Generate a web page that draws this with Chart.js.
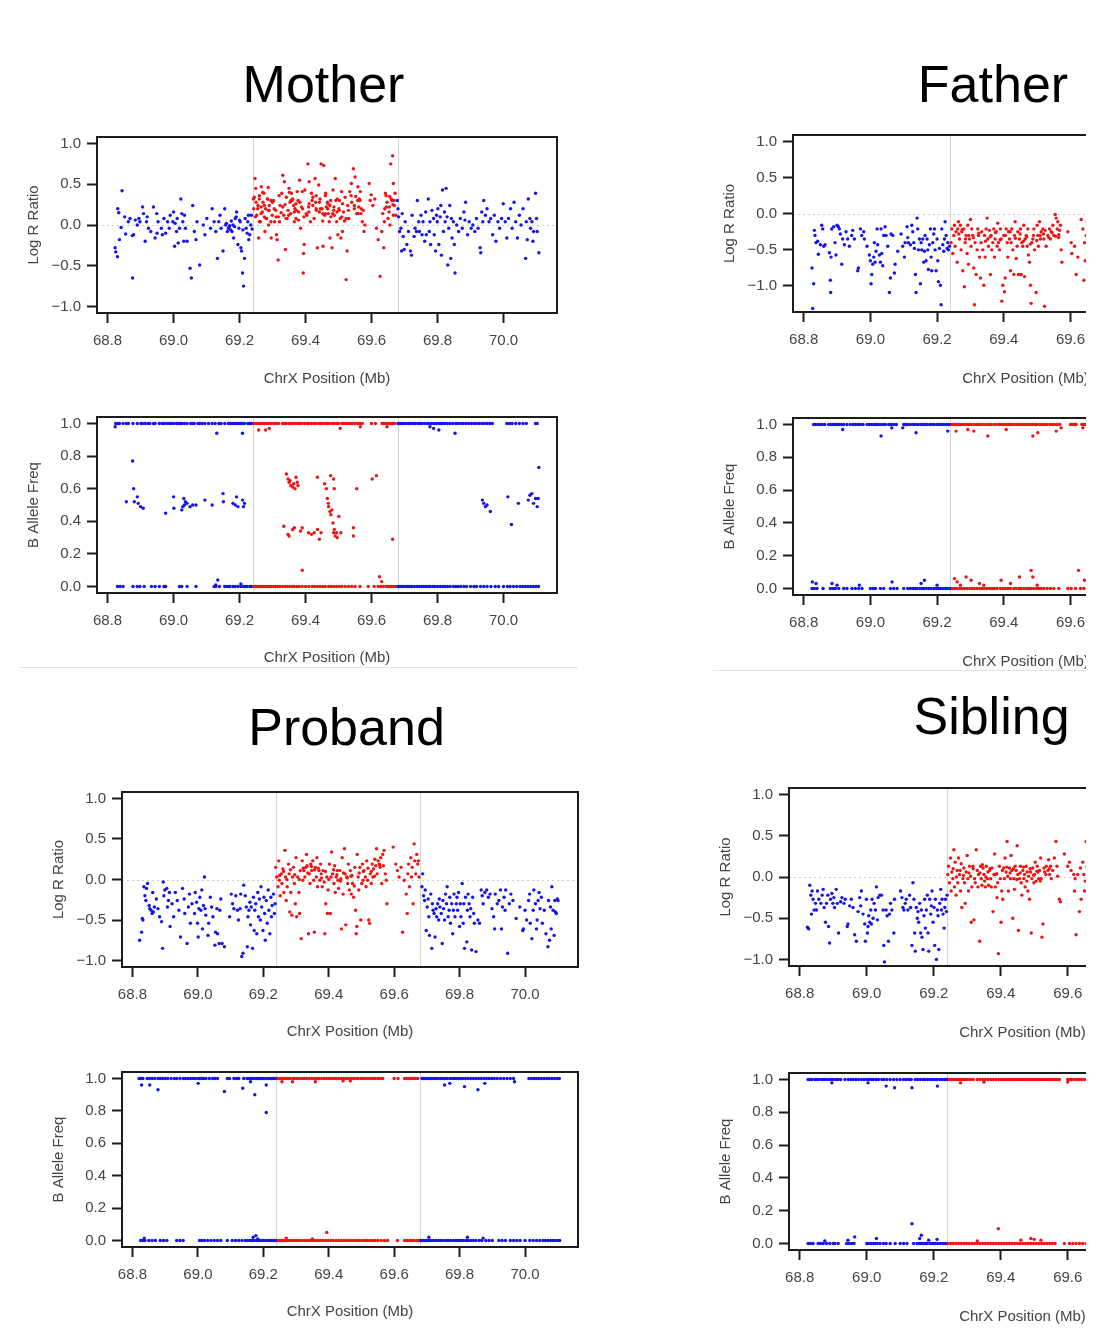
<!DOCTYPE html>
<html><head><meta charset="utf-8">
<script src="https://cdn.jsdelivr.net/npm/chart.js@4.4.1/dist/chart.umd.min.js"></script>
<style>
body{margin:0;background:#fff;}
#page{position:relative;width:1086px;height:1337px;overflow:hidden;background:#fff;font-family:"Liberation Sans",Arial,sans-serif;}
.ttl{position:absolute;font-size:52px;line-height:52px;color:#000;white-space:nowrap;transform:translateX(-50%);}
.sep{position:absolute;height:1px;background:#e2e2e2;}
</style></head><body><div id="page"></div>
<script>
// ---------- axes / categories ----------
const xTicks = [68.8, 69.0, 69.2, 69.4, 69.6, 69.8, 70.0];
const lrrTicks = [-1.0, -0.5, 0.0, 0.5, 1.0];
const bafTicks = [0.0, 0.2, 0.4, 0.6, 0.8, 1.0];
const xRange = [68.768, 70.162];
const lrrRange = [-1.08, 1.08];
const fatherLrrRange = [-1.36, 1.09];
const bafRange = [-0.04, 1.04];
const boundaries = [69.24, 69.68];
const panelTitles = ["Mother", "Father", "Proband", "Sibling"];
const xTitle = "ChrX Position (Mb)";
const lrrTitle = "Log R Ratio";
const bafTitle = "B Allele Freq";

// ---------- Mother ----------
const motherLrrBlue = [[68.823,-0.28],[68.825,-0.33],[68.83,-0.39],[68.831,0.2],[68.834,0.15],[68.836,-0.18],[68.844,0.42],[68.841,-0.03],[68.852,0.1],[68.855,-0.11],[68.863,0.04],[68.868,0.08],[68.876,-0.65],[68.875,-0.13],[68.879,-0.12],[68.884,0.06],[68.89,0],[68.895,0.08],[68.898,0.04],[68.906,0.22],[68.909,0.14],[68.914,-0.2],[68.918,0.04],[68.92,0.1],[68.924,-0.04],[68.931,-0.08],[68.939,0.22],[68.944,-0.16],[68.949,0.14],[68.95,-0.1],[68.953,0.04],[68.963,-0.04],[68.966,-0.12],[68.971,0.08],[68.976,-0.1],[68.982,0.04],[68.987,-0.04],[68.99,0.12],[68.998,0.04],[69.0,0.16],[69.003,-0.26],[69.005,0.02],[69.009,-0.08],[69.011,0.08],[69.014,-0.22],[69.018,-0.04],[69.022,0.32],[69.025,0.14],[69.028,0.04],[69.031,-0.2],[69.033,0.12],[69.036,-0.04],[69.041,-0.2],[69.05,-0.53],[69.054,-0.65],[69.058,0.24],[69.063,-0.08],[69.068,-0.18],[69.071,0.04],[69.079,-0.49],[69.09,0],[69.095,-0.12],[69.101,0.08],[69.112,-0.04],[69.117,0.2],[69.123,0.04],[69.128,-0.08],[69.133,-0.41],[69.137,0.04],[69.141,0.12],[69.144,-0.04],[69.15,-0.32],[69.155,0.2],[69.158,0],[69.16,0.02],[69.163,-0.08],[69.166,-0.04],[69.169,-0.02],[69.17,-0.01],[69.173,-0.06],[69.175,0.05],[69.177,-0.08],[69.18,0],[69.182,-0.16],[69.185,-0.02],[69.187,0.08],[69.19,0.1],[69.191,0.16],[69.195,-0.24],[69.198,-0.04],[69.2,0.06],[69.202,0.04],[69.204,-0.28],[69.206,-0.32],[69.209,-0.59],[69.21,-0.06],[69.212,-0.75],[69.215,-0.41],[69.217,0.08],[69.22,-0.04],[69.223,-0.1],[69.225,0.04],[69.227,0.12],[69.228,-0.18],[69.231,-0.12],[69.234,0],[69.236,0.12],[69.238,-0.05],
[69.678,0.3],[69.68,0.2],[69.682,0.1],[69.685,-0.08],[69.689,-0.04],[69.691,-0.32],[69.693,0.14],[69.696,-0.14],[69.699,-0.3],[69.702,0.04],[69.707,-0.24],[69.712,-0.08],[69.718,-0.32],[69.721,-0.37],[69.723,0.12],[69.729,-0.14],[69.732,-0.04],[69.736,-0.08],[69.739,0.3],[69.743,0.04],[69.745,-0.08],[69.75,0.12],[69.753,-0.12],[69.756,0.04],[69.761,-0.2],[69.764,0.16],[69.766,-0.12],[69.772,0.32],[69.775,-0.08],[69.777,0.04],[69.779,-0.24],[69.783,0.18],[69.788,0.08],[69.79,-0.12],[69.794,-0.32],[69.797,0.12],[69.799,0.04],[69.801,0.2],[69.804,-0.24],[69.808,0.1],[69.81,0.24],[69.812,-0.37],[69.815,0.43],[69.818,-0.08],[69.821,0.16],[69.823,0.04],[69.826,0.45],[69.829,0.1],[69.831,-0.49],[69.834,-0.04],[69.837,0.24],[69.84,-0.41],[69.842,0.08],[69.844,-0.16],[69.848,0.04],[69.851,-0.24],[69.853,-0.59],[69.858,0],[69.864,-0.08],[69.869,0.08],[69.875,-0.04],[69.88,0.16],[69.883,0.06],[69.885,0.28],[69.891,-0.12],[69.896,0.04],[69.902,-0.04],[69.907,0],[69.913,-0.08],[69.918,0.08],[69.923,-0.04],[69.929,-0.28],[69.931,-0.34],[69.934,0.16],[69.937,0.04],[69.94,0.3],[69.945,0.12],[69.95,0.2],[69.956,0.04],[69.961,0.08],[69.967,-0.12],[69.972,0.12],[69.977,-0.2],[69.983,0.04],[69.988,-0.04],[69.994,0.08],[69.999,0.26],[70.005,0.04],[70.01,-0.16],[70.015,0.08],[70.021,0.2],[70.026,-0.04],[70.032,0.28],[70.037,0.04],[70.042,-0.16],[70.048,0.12],[70.053,0],[70.059,0.2],[70.067,-0.41],[70.069,0.04],[70.072,-0.18],[70.075,0.32],[70.08,0.08],[70.082,-0.04],[70.086,0.04],[70.089,-0.2],[70.091,-0.08],[70.097,0.39],[70.1,0.08],[70.102,-0.08],[70.107,-0.34]];
const motherLrrRed = [[69.242,0.32],[69.243,0.2],[69.247,0.57],[69.249,0.45],[69.252,0.12],[69.256,0.24],[69.258,-0.16],[69.26,0.32],[69.263,0.04],[69.265,0.22],[69.266,0.47],[69.269,0.16],[69.271,0.28],[69.274,0.39],[69.275,0.1],[69.277,-0.08],[69.279,0.2],[69.282,0.08],[69.285,0.32],[69.287,0.18],[69.288,0],[69.29,0.24],[69.295,0.3],[69.296,-0.16],[69.299,0.12],[69.303,0.3],[69.305,0.2],[69.306,0.04],[69.31,0.18],[69.312,-0.12],[69.314,-0.18],[69.317,-0.43],[69.318,0.1],[69.321,0.04],[69.323,0.24],[69.326,0.15],[69.328,0.39],[69.331,0.61],[69.334,0.12],[69.336,0.53],[69.338,0.25],[69.339,-0.3],[69.342,0.34],[69.344,0.08],[69.347,0.18],[69.349,0.12],[69.35,0.45],[69.353,0.28],[69.355,0.14],[69.357,0.39],[69.359,0.3],[69.361,0.32],[69.364,0.24],[69.366,0.04],[69.368,0.2],[69.371,0.08],[69.372,0.18],[69.375,0.41],[69.377,0.3],[69.379,0.16],[69.382,0.55],[69.383,0.28],[69.385,-0.04],[69.388,0.22],[69.39,0.41],[69.393,-0.59],[69.394,-0.35],[69.395,0.1],[69.396,-0.24],[69.398,0.43],[69.404,0.12],[69.407,0.75],[69.409,0.22],[69.41,0.16],[69.411,0.53],[69.415,0.04],[69.418,0.39],[69.42,0.3],[69.422,0.24],[69.426,0.08],[69.429,0.57],[69.431,0.28],[69.432,0.36],[69.433,0.18],[69.436,-0.28],[69.44,0.49],[69.442,0.16],[69.444,0.32],[69.445,0.2],[69.447,0.75],[69.45,0.2],[69.452,0.05],[69.453,-0.26],[69.455,0.73],[69.458,0.12],[69.46,0.14],[69.461,0.39],[69.463,0.22],[69.466,0.28],[69.468,0.26],[69.469,0.14],[69.472,0.04],[69.474,-0.16],[69.476,0.3],[69.477,0.1],[69.48,-0.28],[69.483,0.43],[69.485,0.18],[69.486,0.22],[69.487,0.12],[69.49,0.57],[69.494,0.04],[69.495,0.16],[69.496,0.32],[69.498,-0.12],[69.501,0.2],[69.503,0.3],[69.505,0.08],[69.507,-0.16],[69.509,0.41],[69.51,0.1],[69.512,-0.08],[69.515,0.16],[69.518,0.05],[69.52,0.34],[69.523,-0.67],[69.526,-0.32],[69.528,0.24],[69.53,0.18],[69.531,0.08],[69.534,0.41],[69.539,0.51],[69.54,0.28],[69.545,0.69],[69.548,0.24],[69.55,0.59],[69.552,0.35],[69.555,0.14],[69.559,0.47],[69.56,0.14],[69.561,0.22],[69.563,0.32],[69.565,0.3],[69.566,0.41],[69.569,0.2],[69.572,0.04],[69.575,0.18],[69.577,-0.08],[69.58,0],[69.593,0.51],[69.596,0.3],[69.599,0.37],[69.604,0.24],[69.61,0.32],[69.615,-0.04],[69.62,-0.18],[69.626,-0.63],[69.631,-0.08],[69.634,0.14],[69.637,-0.28],[69.639,0.04],[69.64,0.2],[69.642,0.39],[69.645,0.22],[69.647,0.28],[69.65,0.08],[69.653,0.16],[69.655,0.35],[69.656,0],[69.658,0.75],[69.66,0.32],[69.664,0.85],[69.665,0.25],[69.666,0.51],[69.668,0.3],[69.669,0.24],[69.671,0.39],[69.674,0.12],
[69.245,0.34],[69.25,0.28],[69.255,0.2],[69.26,0.36],[69.265,0.14],[69.27,0.4],[69.275,0.24],[69.28,0.08],[69.285,0.32],[69.29,0.18],[69.295,0.04],[69.26,0.04],[69.248,0.1],[69.287,0.46],[69.3,0.28],[69.311,0.1],[69.32,0.36],[69.331,0.22],[69.341,0.08],[69.351,0.4],[69.356,0.3],[69.366,0.16],[69.371,0.26],[69.379,0.06],[69.391,0.2],[69.402,0.14],[69.411,0.26],[69.422,0.34],[69.432,0.2],[69.442,0.28],[69.452,0.14],[69.46,0.36],[69.467,0.2],[69.474,0.24],[69.482,0.14],[69.492,0.3],[69.502,0.18],[69.512,0.26],[69.523,0.08],[69.538,0.36],[69.548,0.2],[69.558,0.3],[69.568,0.14],[69.644,0.36],[69.654,0.22],[69.662,0.3],[69.666,0.12]];
const motherBafBlueAt1 = [68.825,68.83,68.836,68.847,68.857,68.863,68.877,68.89,68.901,68.906,68.914,68.922,68.928,68.939,68.944,68.957,68.966,68.971,68.979,68.987,68.993,69.0,69.009,69.014,69.02,69.025,69.033,69.041,69.052,69.058,69.063,69.074,69.079,69.087,69.095,69.106,69.117,69.126,69.137,69.144,69.155,69.166,69.171,69.177,69.182,69.187,69.193,69.198,69.204,69.209,69.215,69.225,69.231,69.236,69.68,69.686,69.692,69.698,69.705,69.712,69.718,69.725,69.732,69.74,69.746,69.752,69.76,69.768,69.775,69.782,69.79,69.797,69.804,69.81,69.816,69.822,69.83,69.838,69.846,69.855,69.862,69.87,69.878,69.886,69.894,69.902,69.91,69.918,69.926,69.934,69.942,69.95,69.958,69.966,70.01,70.018,70.026,70.037,70.048,70.059,70.069,70.097,70.102];
const motherBafBlueAt0 = [68.83,68.838,68.847,68.877,68.89,68.898,68.911,68.933,68.944,68.957,68.971,68.976,69.018,69.025,69.041,69.068,69.123,69.128,69.139,69.155,69.161,69.166,69.171,69.18,69.187,69.195,69.204,69.212,69.217,69.223,69.231,69.236,69.68,69.686,69.692,69.698,69.705,69.71,69.716,69.722,69.73,69.738,69.745,69.752,69.758,69.765,69.772,69.778,69.786,69.792,69.8,69.808,69.815,69.822,69.83,69.838,69.848,69.855,69.862,69.87,69.88,69.888,69.9,69.91,69.918,69.93,69.94,69.95,69.962,69.975,69.985,70.0,70.012,70.02,70.03,70.04,70.05,70.058,70.066,70.074,70.082,70.09,70.098,70.106];
const motherBafBlueOther = [[68.823,0.98],[69.131,0.94],[69.209,0.94],[69.788,0.97],[69.804,0.96],[69.853,0.94],[69.777,0.98],[69.134,0.04],[69.128,0.01],[69.204,0.015],[68.876,0.77],[68.879,0.6],[68.857,0.52],[68.881,0.52],[68.89,0.55],[68.893,0.51],[68.9,0.49],[68.908,0.48],[68.976,0.45],[69.0,0.55],[69.001,0.48],[69.025,0.47],[69.028,0.49],[69.031,0.54],[69.033,0.5],[69.036,0.52],[69.041,0.51],[69.05,0.49],[69.058,0.5],[69.068,0.5],[69.095,0.53],[69.117,0.5],[69.15,0.57],[69.151,0.52],[69.18,0.51],[69.187,0.5],[69.191,0.55],[69.195,0.49],[69.209,0.53],[69.212,0.49],[69.215,0.51],[69.936,0.53],[69.94,0.51],[69.945,0.49],[69.95,0.5],[69.96,0.46],[70.013,0.55],[70.024,0.38],[70.045,0.51],[70.075,0.53],[70.08,0.56],[70.086,0.57],[70.091,0.51],[70.097,0.54],[70.102,0.49],[70.107,0.73],[70.105,0.54]];
const motherBafRedAt1 = [69.243,69.25,69.256,69.262,69.268,69.275,69.282,69.29,69.297,69.305,69.312,69.318,69.33,69.336,69.342,69.35,69.356,69.362,69.37,69.377,69.383,69.39,69.398,69.405,69.41,69.418,69.425,69.432,69.44,69.446,69.452,69.46,69.466,69.472,69.48,69.487,69.494,69.5,69.51,69.516,69.522,69.53,69.536,69.542,69.55,69.558,69.565,69.572,69.6,69.612,69.632,69.638,69.645,69.652,69.658,69.664,69.67];
const motherBafRedAt0 = [69.244,69.249,69.255,69.26,69.266,69.271,69.278,69.284,69.29,69.296,69.303,69.309,69.316,69.322,69.33,69.338,69.345,69.352,69.36,69.366,69.374,69.381,69.39,69.4,69.41,69.42,69.427,69.436,69.444,69.452,69.46,69.47,69.478,69.486,69.494,69.502,69.51,69.52,69.53,69.54,69.55,69.565,69.59,69.608,69.62,69.628,69.636,69.645,69.65,69.656,69.662,69.668,69.673];
const motherBafRedOther = [[69.258,0.96],[69.279,0.96],[69.29,0.97],[69.505,0.97],[69.566,0.98],[69.647,0.98],[69.342,0.69],[69.347,0.66],[69.35,0.64],[69.353,0.65],[69.355,0.62],[69.361,0.61],[69.364,0.63],[69.368,0.6],[69.371,0.67],[69.375,0.64],[69.377,0.62],[69.334,0.37],[69.347,0.32],[69.35,0.31],[69.361,0.35],[69.366,0.36],[69.385,0.34],[69.39,0.36],[69.409,0.33],[69.418,0.32],[69.426,0.33],[69.436,0.35],[69.442,0.29],[69.447,0.33],[69.39,0.1],[69.436,0.67],[69.458,0.63],[69.463,0.6],[69.466,0.54],[69.469,0.51],[69.47,0.49],[69.474,0.46],[69.477,0.44],[69.48,0.47],[69.476,0.68],[69.485,0.66],[69.483,0.39],[69.485,0.33],[69.487,0.35],[69.49,0.31],[69.494,0.33],[69.496,0.3],[69.487,0.6],[69.501,0.43],[69.507,0.33],[69.555,0.6],[69.545,0.36],[69.545,0.31],[69.602,0.66],[69.615,0.68],[69.664,0.29],[69.624,0.06],[69.631,0.03]];

// ---------- Father ----------
const fatherLrrBlue = [[68.825,-0.75],[68.83,-0.97],[68.827,-1.31],[68.832,-0.23],[68.837,-0.4],[68.834,-0.3],[68.842,-0.38],[68.844,-0.56],[68.85,-0.43],[68.854,-0.16],[68.857,-0.21],[68.86,-0.45],[68.864,-0.43],[68.877,-0.54],[68.88,-0.92],[68.881,-1.09],[68.882,-0.6],[68.884,-0.21],[68.89,-0.18],[68.894,-0.4],[68.897,-0.57],[68.9,-0.16],[68.904,-0.18],[68.907,-0.21],[68.91,-0.28],[68.914,-0.7],[68.917,-0.35],[68.922,-0.43],[68.927,-0.25],[68.932,-0.35],[68.937,-0.45],[68.944,-0.3],[68.947,-0.23],[68.952,-0.35],[68.962,-0.79],[68.964,-0.75],[68.97,-0.21],[68.974,-0.3],[68.98,-0.25],[68.982,-0.35],[68.99,-0.45],[68.997,-0.57],[69.0,-0.65],[69.002,-0.97],[69.004,-0.84],[69.007,-0.7],[69.01,-0.6],[69.012,-0.4],[69.014,-0.67],[69.017,-0.52],[69.02,-0.21],[69.022,-0.43],[69.027,-0.57],[69.03,-0.67],[69.032,-0.21],[69.034,-0.55],[69.037,-0.72],[69.04,-0.3],[69.044,-0.18],[69.047,-0.3],[69.052,-0.45],[69.057,-1.09],[69.06,-0.89],[69.062,-0.28],[69.067,-0.3],[69.072,-0.82],[69.074,-0.7],[69.082,-0.52],[69.092,-0.28],[69.097,-0.45],[69.102,-0.6],[69.104,-0.4],[69.11,-0.18],[69.112,-0.33],[69.114,-0.4],[69.12,-0.43],[69.124,-0.16],[69.127,-0.25],[69.13,-0.4],[69.132,-0.48],[69.135,-0.84],[69.137,-1.09],[69.14,-0.06],[69.142,-0.21],[69.144,-0.5],[69.147,-0.35],[69.15,-0.97],[69.152,-0.4],[69.154,-0.5],[69.157,-0.35],[69.16,-0.67],[69.162,-0.52],[69.164,-0.3],[69.167,-0.65],[69.17,-0.35],[69.172,-0.5],[69.174,-0.77],[69.177,-0.43],[69.18,-0.21],[69.182,-0.6],[69.184,-0.79],[69.187,-0.4],[69.19,-0.28],[69.192,-0.21],[69.194,-0.5],[69.197,-0.79],[69.2,-0.35],[69.202,-0.65],[69.204,-0.94],[69.207,-0.48],[69.21,-0.99],[69.212,-1.26],[69.214,-0.21],[69.217,-0.43],[69.22,-0.52],[69.222,-0.35],[69.224,-0.11],[69.227,-0.3],[69.23,-0.48],[69.232,-0.4],[69.234,-0.5],[69.237,-0.45]];
const fatherLrrRed = [[69.242,-0.4],[69.244,-0.21],[69.247,-0.55],[69.25,-0.3],[69.252,-0.16],[69.254,-0.45],[69.257,-0.25],[69.26,-0.67],[69.262,-0.21],[69.264,-0.11],[69.267,-0.35],[69.27,-0.16],[69.272,-0.5],[69.274,-0.25],[69.277,-0.79],[69.28,-0.21],[69.282,-1.01],[69.284,-0.4],[69.287,-0.3],[69.29,-0.55],[69.292,-0.16],[69.294,-0.7],[69.297,-0.35],[69.3,-0.08],[69.302,-0.45],[69.304,-0.21],[69.307,-0.3],[69.31,-0.75],[69.312,-1.26],[69.314,-0.4],[69.317,-0.84],[69.32,-0.5],[69.322,-0.21],[69.324,-0.3],[69.327,-0.6],[69.33,-0.89],[69.332,-0.4],[69.334,-0.25],[69.337,-0.5],[69.34,-0.99],[69.342,-0.3],[69.344,-0.6],[69.347,-0.21],[69.35,-0.06],[69.352,-0.35],[69.354,-0.45],[69.357,-0.23],[69.36,-0.84],[69.362,-0.3],[69.364,-0.5],[69.367,-0.4],[69.37,-0.21],[69.372,-0.6],[69.374,-0.35],[69.377,-0.25],[69.38,-0.45],[69.382,-0.13],[69.384,-0.4],[69.387,-0.5],[69.39,-0.21],[69.392,-0.35],[69.394,-1.21],[69.397,-0.99],[69.4,-0.3],[69.402,-1.08],[69.404,-0.89],[69.407,-0.21],[69.41,-0.4],[69.412,-0.6],[69.414,-0.25],[69.417,-0.35],[69.42,-0.79],[69.422,-0.4],[69.424,-0.21],[69.427,-0.5],[69.43,-0.84],[69.432,-0.3],[69.434,-0.11],[69.437,-0.62],[69.44,-0.45],[69.442,-0.25],[69.444,-0.84],[69.447,-0.35],[69.45,-0.21],[69.452,-0.84],[69.454,-0.4],[69.457,-0.45],[69.46,-0.16],[69.462,-0.87],[69.464,-0.35],[69.467,-0.3],[69.47,-0.45],[69.472,-0.21],[69.474,-0.57],[69.477,-0.67],[69.48,-0.99],[69.482,-1.24],[69.484,-0.4],[69.487,-0.35],[69.49,-0.21],[69.492,-0.5],[69.497,-1.09],[69.5,-0.16],[69.502,-0.3],[69.504,-0.45],[69.507,-0.11],[69.51,-0.35],[69.512,-0.25],[69.517,-0.21],[69.52,-0.35],[69.522,-1.28],[69.524,-0.23],[69.527,-0.45],[69.532,-0.3],[69.537,-0.21],[69.54,-0.35],[69.542,-0.25],[69.547,-0.16],[69.55,-0.3],[69.554,-0.01],[69.557,-0.06],[69.56,-0.21],[69.562,-0.11],[69.564,-0.33],[69.567,-0.23],[69.57,-0.16],[69.572,-0.5],[69.574,-0.67],[69.592,-0.25],[69.602,-0.4],[69.604,-0.55],[69.612,-0.45],[69.617,-0.84],[69.622,-0.6],[69.632,-0.08],[69.637,-0.21],[69.64,-0.92],[69.642,-0.4],[69.644,-0.65],[69.647,-0.3],[69.65,-0.11],[69.652,-0.5],[69.265,-0.28],[69.275,-0.22],[69.285,-0.35],[69.295,-0.3],[69.309,-0.33],[69.325,-0.27],[69.345,-0.38],[69.359,-0.32],[69.375,-0.26],[69.389,-0.36],[69.405,-0.3],[69.419,-0.25],[69.435,-0.34],[69.449,-0.28],[69.459,-0.38],[69.469,-0.32],[69.479,-0.42],[69.489,-0.3],[69.499,-0.37],[69.509,-0.3],[69.519,-0.28],[69.535,-0.33],[69.545,-0.26],[69.555,-0.31],[69.565,-0.29]];
const fatherBafBlueAt1 = [68.83,68.835,68.842,68.85,68.856,68.863,68.875,68.882,68.888,68.895,68.9,68.906,68.913,68.92,68.93,68.94,68.948,68.955,68.962,68.97,68.978,68.99,68.997,69.003,69.01,69.016,69.022,69.03,69.038,69.045,69.055,69.062,69.07,69.078,69.1,69.105,69.112,69.12,69.128,69.135,69.142,69.15,69.157,69.163,69.17,69.178,69.185,69.192,69.2,69.207,69.213,69.22,69.228,69.235];
const fatherBafBlueAt0 = [68.825,68.832,68.84,68.858,68.88,68.888,68.895,68.905,68.92,68.93,68.945,68.955,68.965,68.975,69.0,69.008,69.015,69.03,69.04,69.06,69.07,69.08,69.1,69.112,69.12,69.128,69.135,69.14,69.148,69.155,69.16,69.168,69.175,69.182,69.19,69.197,69.204,69.21,69.217,69.224,69.23,69.237];
const fatherBafBlueOther = [[68.917,0.97],[69.032,0.93],[69.064,0.98],[69.097,0.98],[69.137,0.95],[69.232,0.96],[68.826,0.04],[68.837,0.03],[68.885,0.03],[68.967,0.02],[69.065,0.04],[69.162,0.05],[69.152,0.03],[68.9,0.02],[69.2,0.02]];
const fatherBafRedAt1 = [69.242,69.248,69.254,69.26,69.266,69.272,69.278,69.285,69.29,69.296,69.302,69.31,69.318,69.325,69.332,69.34,69.348,69.356,69.362,69.37,69.378,69.386,69.392,69.398,69.405,69.412,69.418,69.425,69.432,69.44,69.447,69.454,69.46,69.467,69.474,69.48,69.487,69.494,69.5,69.508,69.515,69.522,69.53,69.538,69.545,69.552,69.56,69.568,69.6,69.606,69.612,69.617,69.634,69.64,69.646,69.652,69.658];
const fatherBafRedAt0 = [69.242,69.247,69.253,69.26,69.268,69.275,69.282,69.29,69.298,69.305,69.312,69.32,69.328,69.335,69.342,69.35,69.358,69.365,69.372,69.38,69.39,69.398,69.405,69.412,69.42,69.43,69.437,69.445,69.452,69.46,69.468,69.475,69.482,69.49,69.498,69.505,69.512,69.52,69.53,69.54,69.55,69.565,69.592,69.602,69.615,69.63,69.64,69.65,69.658];
const fatherBafRedOther = [[69.257,0.96],[69.292,0.97],[69.31,0.96],[69.352,0.93],[69.407,0.97],[69.487,0.93],[69.502,0.95],[69.557,0.96],[69.572,0.98],[69.637,0.98],[69.252,0.06],[69.26,0.04],[69.287,0.07],[69.302,0.05],[69.327,0.03],[69.392,0.05],[69.447,0.07],[69.482,0.11],[69.487,0.07],[69.624,0.11],[69.642,0.05],[69.27,0.02],[69.34,0.02],[69.42,0.03],[69.5,0.02]];

// ---------- Proband ----------
const probandLrrBlue = [[68.822,-0.75],[68.828,-0.65],[68.83,-0.48],[68.832,-0.5],[68.835,-0.09],[68.838,-0.2],[68.841,-0.26],[68.843,-0.11],[68.846,-0.05],[68.851,-0.32],[68.853,-0.36],[68.857,-0.38],[68.86,-0.42],[68.862,-0.16],[68.864,-0.4],[68.867,-0.34],[68.873,-0.24],[68.878,-0.36],[68.883,-0.46],[68.889,-0.52],[68.892,-0.85],[68.894,-0.03],[68.896,-0.2],[68.899,-0.13],[68.905,-0.11],[68.907,-0.34],[68.91,-0.26],[68.913,-0.16],[68.915,-0.58],[68.921,-0.3],[68.926,-0.46],[68.931,-0.16],[68.937,-0.26],[68.942,-0.38],[68.947,-0.71],[68.953,-0.11],[68.958,-0.24],[68.96,-0.42],[68.967,-0.79],[68.971,-0.34],[68.974,-0.18],[68.977,-0.54],[68.982,-0.3],[68.99,-0.42],[68.992,-0.16],[68.996,-0.28],[68.999,-0.54],[69.001,-0.71],[69.003,-0.36],[69.006,-0.22],[69.009,-0.38],[69.012,-0.13],[69.014,-0.61],[69.017,-0.32],[69.02,0.03],[69.022,-0.36],[69.024,-0.44],[69.031,-0.69],[69.033,-0.54],[69.038,-0.22],[69.042,-0.34],[69.046,-0.46],[69.052,-0.81],[69.054,-0.65],[69.058,-0.36],[69.06,-0.67],[69.065,-0.79],[69.067,-0.38],[69.07,-0.24],[69.074,-0.79],[69.081,-0.83],[69.097,-0.46],[69.102,-0.18],[69.106,-0.3],[69.11,-0.36],[69.116,-0.2],[69.121,-0.38],[69.124,-0.5],[69.129,-0.36],[69.131,-0.18],[69.134,-0.95],[69.138,-0.91],[69.14,-0.07],[69.145,-0.2],[69.148,-0.34],[69.151,-0.83],[69.153,-0.46],[69.156,-0.38],[69.159,-0.28],[69.161,-0.56],[69.163,-0.34],[69.167,-0.85],[69.17,-0.22],[69.172,-0.63],[69.174,-0.38],[69.177,-0.3],[69.18,-0.67],[69.183,-0.16],[69.185,-0.46],[69.188,-0.24],[69.191,-0.5],[69.193,-0.09],[69.195,-0.34],[69.199,-0.63],[69.202,-0.22],[69.204,-0.42],[69.206,-0.75],[69.209,-0.26],[69.212,-0.54],[69.215,-0.13],[69.217,-0.38],[69.22,-0.67],[69.223,-0.22],[69.225,-0.46],[69.227,-0.32],[69.231,-0.18],[69.234,-0.42],[69.236,-0.3],
[69.685,-0.09],[69.687,0.07],[69.69,-0.2],[69.693,-0.26],[69.695,-0.13],[69.698,-0.63],[69.701,-0.34],[69.704,-0.24],[69.706,-0.46],[69.708,-0.69],[69.712,-0.18],[69.715,-0.85],[69.717,-0.3],[69.719,-0.38],[69.722,-0.42],[69.725,-0.71],[69.728,-0.36],[69.73,-0.46],[69.733,-0.3],[69.736,-0.5],[69.738,-0.24],[69.74,-0.34],[69.744,-0.42],[69.747,-0.79],[69.749,-0.26],[69.751,-0.36],[69.754,-0.5],[69.757,-0.18],[69.76,-0.3],[69.762,-0.09],[69.765,-0.46],[69.768,-0.38],[69.77,-0.22],[69.772,-0.54],[69.776,-0.3],[69.779,-0.67],[69.781,-0.38],[69.783,-0.18],[69.786,-0.46],[69.79,-0.3],[69.792,-0.22],[69.794,-0.38],[69.797,-0.16],[69.8,-0.58],[69.802,-0.3],[69.804,-0.46],[69.808,-0.05],[69.811,-0.54],[69.813,-0.3],[69.815,-0.85],[69.818,-0.22],[69.822,-0.77],[69.824,-0.38],[69.826,-0.18],[69.829,-0.3],[69.832,-0.46],[69.834,-0.36],[69.837,-0.87],[69.84,-0.22],[69.843,-0.42],[69.845,-0.54],[69.85,-0.89],[69.856,-0.5],[69.861,-0.54],[69.866,-0.13],[69.869,-0.2],[69.872,-0.3],[69.877,-0.16],[69.883,-0.13],[69.888,-0.22],[69.893,-0.18],[69.899,-0.36],[69.904,-0.46],[69.907,-0.61],[69.909,-0.18],[69.915,-0.3],[69.92,-0.26],[69.925,-0.13],[69.928,-0.61],[69.931,-0.34],[69.936,-0.22],[69.939,-0.38],[69.941,-0.13],[69.947,-0.91],[69.952,-0.3],[69.957,-0.18],[69.963,-0.26],[69.973,-0.48],[69.984,-0.34],[69.993,-0.63],[69.995,-0.61],[70.0,-0.38],[70.005,-0.5],[70.011,-0.26],[70.014,-0.18],[70.016,-0.54],[70.021,-0.73],[70.025,-0.38],[70.027,-0.13],[70.032,-0.3],[70.035,-0.61],[70.037,-0.5],[70.04,-0.26],[70.043,-0.16],[70.046,-0.36],[70.05,-0.22],[70.053,-0.54],[70.059,-0.38],[70.064,-0.67],[70.07,-0.83],[70.072,-0.26],[70.075,-0.75],[70.078,-0.34],[70.08,-0.61],[70.082,-0.09],[70.086,-0.38],[70.089,-0.69],[70.091,-0.26],[70.093,-0.4],[70.096,-0.42],[70.099,-0.24],[70.101,-0.26]];
const probandLrrRed = [[69.238,0.15],[69.241,0.03],[69.245,-0.09],[69.247,0.23],[69.249,-0.01],[69.252,-0.2],[69.255,0.07],[69.257,-0.05],[69.26,0.13],[69.263,-0.16],[69.266,0.36],[69.268,0.03],[69.27,-0.26],[69.273,-0.09],[69.277,0.19],[69.279,0.07],[69.281,-0.4],[69.284,-0.16],[69.287,-0.44],[69.289,0.03],[69.292,0.15],[69.295,-0.05],[69.298,-0.3],[69.3,0.27],[69.302,-0.46],[69.305,0.03],[69.309,-0.16],[69.311,-0.42],[69.313,0.11],[69.316,-0.73],[69.319,0.23],[69.321,-0.01],[69.324,0.11],[69.327,0.03],[69.33,0.15],[69.332,0.31],[69.334,0.17],[69.338,-0.67],[69.341,0.07],[69.343,-0.05],[69.345,0.19],[69.348,0.11],[69.351,0.23],[69.354,-0.01],[69.356,-0.65],[69.359,0.15],[69.362,0.03],[69.364,0.27],[69.366,-0.09],[69.37,0.11],[69.373,-0.01],[69.375,0.19],[69.377,0.07],[69.38,-0.09],[69.383,0.11],[69.386,-0.03],[69.388,-0.67],[69.391,-0.3],[69.394,0.03],[69.396,-0.42],[69.398,-0.13],[69.402,0.19],[69.405,-0.42],[69.407,0.03],[69.409,0.34],[69.412,0.07],[69.416,-0.05],[69.418,0.17],[69.42,-0.16],[69.423,0.03],[69.426,0.11],[69.428,-0.01],[69.43,-0.11],[69.434,0.11],[69.437,0.01],[69.439,-0.61],[69.441,0.27],[69.444,-0.18],[69.448,0.38],[69.45,0.07],[69.452,-0.56],[69.455,0.03],[69.458,-0.05],[69.46,0.19],[69.463,-0.13],[69.466,0.11],[69.469,-0.18],[69.471,0.05],[69.473,-0.05],[69.476,-0.22],[69.48,0.15],[69.482,-0.38],[69.484,-0.67],[69.486,-0.58],[69.487,0.31],[69.49,0.03],[69.492,-0.13],[69.495,0.15],[69.498,-0.5],[69.501,-0.05],[69.503,0.19],[69.505,-0.01],[69.508,0.11],[69.512,0.03],[69.514,-0.09],[69.516,0.23],[69.519,-0.01],[69.522,-0.5],[69.525,-0.54],[69.527,0.07],[69.53,-0.05],[69.533,0.19],[69.535,0.03],[69.537,0.13],[69.541,0.25],[69.544,0.17],[69.546,0.38],[69.548,0.07],[69.551,0.23],[69.554,0.19],[69.557,0.15],[69.559,0.27],[69.562,-0.05],[69.565,0.31],[69.567,0.17],[69.569,0.36],[69.573,0.07],[69.576,-0.01],[69.578,-0.3],[69.597,0.4],[69.605,0.19],[69.61,0.11],[69.615,0.03],[69.621,0.15],[69.626,-0.65],[69.631,-0.01],[69.637,-0.18],[69.64,-0.42],[69.642,0.07],[69.644,0.19],[69.647,-0.09],[69.651,0.27],[69.653,0.03],[69.655,0.15],[69.658,-0.3],[69.661,0.44],[69.663,0.23],[69.666,0.07],[69.669,0.31],[69.672,0.19],[69.674,0.23],[69.676,0.03],[69.25,0.05],[69.262,0.1],[69.272,0.0],[69.283,0.12],[69.296,0.06],[69.31,0.0],[69.322,0.14],[69.336,0.08],[69.347,0.16],[69.357,0.12],[69.368,0.14],[69.378,0.02],[69.39,0.1],[69.4,0.0],[69.415,0.12],[69.425,0.06],[69.436,-0.02],[69.445,0.08],[69.457,0.02],[69.468,0.04],[69.478,-0.08],[69.493,0.08],[69.506,0.1],[69.52,0.14],[69.53,0.1],[69.54,0.04],[69.556,0.18]];
const probandBafBlueAt1 = [68.82,68.826,68.832,68.845,68.852,68.86,68.868,68.878,68.885,68.892,68.9,68.908,68.918,68.928,68.935,68.945,68.955,68.962,68.97,68.978,68.985,68.992,69.0,69.006,69.012,69.018,69.025,69.035,69.045,69.052,69.06,69.09,69.097,69.11,69.118,69.125,69.14,69.15,69.157,69.163,69.17,69.178,69.185,69.19,69.196,69.202,69.21,69.217,69.224,69.23,69.236,69.685,69.69,69.696,69.702,69.708,69.715,69.722,69.728,69.735,69.742,69.748,69.755,69.762,69.77,69.777,69.784,69.79,69.797,69.804,69.81,69.818,69.826,69.834,69.842,69.85,69.858,69.866,69.874,69.882,69.89,69.898,69.906,69.915,69.925,69.935,69.945,69.955,69.965,70.012,70.02,70.028,70.035,70.042,70.05,70.058,70.066,70.074,70.082,70.09,70.098,70.105];
const probandBafBlueAt0 = [68.825,68.832,68.838,68.85,68.86,68.87,68.885,68.895,68.905,68.935,68.945,68.955,69.005,69.012,69.02,69.03,69.04,69.05,69.06,69.07,69.09,69.105,69.115,69.125,69.135,69.145,69.152,69.16,69.165,69.17,69.178,69.185,69.19,69.196,69.202,69.21,69.217,69.224,69.23,69.236,69.682,69.688,69.695,69.7,69.706,69.712,69.72,69.728,69.735,69.742,69.75,69.758,69.765,69.772,69.78,69.788,69.795,69.8,69.806,69.812,69.82,69.826,69.834,69.842,69.85,69.86,69.868,69.88,69.89,69.9,69.92,69.93,69.94,69.955,69.965,69.975,69.985,70.0,70.015,70.025,70.035,70.045,70.055,70.062,70.07,70.078,70.085,70.092,70.1,70.106];
const probandBafBlueOther = [[68.828,0.96],[68.853,0.96],[68.878,0.93],[69.001,0.97],[69.081,0.92],[69.137,0.94],[69.174,0.9],[69.209,0.96],[69.209,0.79],[69.161,0.98],[69.754,0.96],[69.77,0.97],[69.815,0.95],[69.856,0.93],[69.877,0.97],[69.968,0.98],[69.169,0.02],[69.177,0.03],[69.183,0.01],[68.836,0.015],[69.706,0.02],[69.824,0.02],[69.872,0.015]];
const probandBafRedAt1 = [69.243,69.25,69.256,69.262,69.268,69.275,69.282,69.29,69.296,69.303,69.31,69.318,69.325,69.332,69.34,69.348,69.356,69.363,69.37,69.378,69.386,69.393,69.4,69.408,69.415,69.422,69.43,69.438,69.445,69.452,69.46,69.468,69.475,69.482,69.49,69.498,69.505,69.512,69.52,69.528,69.535,69.542,69.55,69.558,69.565,69.6,69.612,69.632,69.638,69.645,69.652,69.658,69.665,69.672];
const probandBafRedAt0 = [69.242,69.248,69.254,69.26,69.267,69.274,69.28,69.288,69.295,69.302,69.31,69.318,69.326,69.334,69.342,69.35,69.358,69.366,69.374,69.382,69.39,69.398,69.406,69.414,69.422,69.43,69.438,69.446,69.454,69.462,69.47,69.478,69.486,69.494,69.502,69.51,69.518,69.526,69.534,69.542,69.55,69.56,69.57,69.58,69.61,69.632,69.64,69.648,69.655,69.662,69.67,69.676];
const probandBafRedOther = [[69.257,0.98],[69.289,0.98],[69.359,0.98],[69.444,0.985],[69.466,0.985],[69.394,0.05],[69.27,0.015],[69.35,0.01]];

// ---------- Sibling ----------
const siblingLrrBlue = [[68.823,-0.61],[68.827,-0.63],[68.83,-0.1],[68.833,-0.22],[68.835,-0.45],[68.837,-0.17],[68.84,-0.27],[68.843,-0.4],[68.847,-0.32],[68.85,-0.4],[68.853,-0.17],[68.857,-0.27],[68.863,-0.32],[68.867,-0.22],[68.87,-0.15],[68.873,-0.37],[68.877,-0.55],[68.88,-0.32],[68.884,-0.22],[68.886,-0.6],[68.889,-0.8],[68.892,-0.27],[68.896,-0.2],[68.899,-0.32],[68.902,-0.25],[68.904,-0.37],[68.909,-0.15],[68.912,-0.32],[68.916,-0.68],[68.922,-0.3],[68.926,-0.25],[68.932,-0.32],[68.936,-0.27],[68.942,-0.6],[68.944,-0.57],[68.949,-0.35],[68.954,-0.27],[68.959,-0.37],[68.964,-0.7],[68.969,-0.78],[68.974,-0.42],[68.979,-0.25],[68.982,-0.35],[68.984,-0.17],[68.989,-0.45],[68.994,-0.57],[68.996,-0.78],[68.999,-0.27],[69.002,-0.68],[69.004,-0.6],[69.006,-0.47],[69.009,-0.55],[69.012,-0.4],[69.014,-0.57],[69.016,-0.27],[69.019,-0.5],[69.022,-0.32],[69.026,-0.4],[69.029,-0.12],[69.032,-0.52],[69.034,-0.25],[69.039,-0.22],[69.044,-0.22],[69.049,-0.4],[69.051,-0.83],[69.053,-1.03],[69.058,-0.4],[69.061,-0.47],[69.065,-0.78],[69.068,-0.45],[69.071,-0.32],[69.075,-0.4],[69.081,-0.68],[69.083,-0.27],[69.101,-0.17],[69.105,-0.25],[69.108,-0.37],[69.111,-0.4],[69.115,-0.32],[69.118,-0.27],[69.123,-0.4],[69.128,-0.22],[69.131,-0.37],[69.135,-0.83],[69.138,-0.07],[69.141,-0.27],[69.143,-0.68],[69.145,-0.9],[69.148,-0.37],[69.151,-0.5],[69.153,-0.42],[69.155,-0.55],[69.158,-0.32],[69.161,-0.68],[69.163,-0.4],[69.165,-0.73],[69.168,-0.88],[69.171,-0.47],[69.173,-0.27],[69.175,-0.62],[69.178,-0.4],[69.181,-0.22],[69.183,-0.68],[69.185,-0.9],[69.188,-0.27],[69.191,-0.45],[69.193,-0.35],[69.195,-0.17],[69.198,-0.55],[69.201,-0.37],[69.203,-0.83],[69.205,-0.27],[69.208,-1.0],[69.211,-0.4],[69.213,-0.47],[69.215,-0.88],[69.218,-0.32],[69.221,-0.15],[69.223,-0.4],[69.225,-0.27],[69.228,-0.45],[69.231,-0.62],[69.233,-0.37],[69.235,-0.27],[69.238,-0.42],[69.24,-0.22]];
const siblingLrrRed = [[69.242,0.03],[69.244,0.13],[69.247,-0.07],[69.25,0.23],[69.252,-0.17],[69.254,0.06],[69.257,-0.02],[69.26,0.33],[69.262,-0.12],[69.264,0.18],[69.267,-0.22],[69.27,0.08],[69.272,-0.07],[69.274,0.23],[69.277,0.03],[69.28,-0.17],[69.282,0.16],[69.284,-0.37],[69.287,-0.02],[69.29,0.11],[69.292,-0.07],[69.294,-0.32],[69.297,0.06],[69.3,0.26],[69.302,-0.02],[69.304,-0.17],[69.307,0.13],[69.31,0.01],[69.312,-0.55],[69.314,-0.12],[69.317,0.13],[69.32,-0.52],[69.322,-0.02],[69.324,-0.07],[69.327,0.33],[69.33,0.08],[69.332,-0.12],[69.334,0.03],[69.337,-0.78],[69.34,0.13],[69.342,-0.02],[69.344,-0.1],[69.347,0.11],[69.35,0.03],[69.352,-0.05],[69.354,-0.12],[69.357,0.13],[69.36,-0.02],[69.362,0.06],[69.364,-0.1],[69.367,0.08],[69.37,-0.02],[69.372,-0.12],[69.374,0.11],[69.377,-0.42],[69.38,0.03],[69.382,0.28],[69.384,-0.12],[69.386,0.03],[69.389,-0.25],[69.391,-0.07],[69.393,-0.93],[69.396,0.13],[69.399,-0.02],[69.401,-0.55],[69.403,-0.17],[69.406,-0.27],[69.409,0.11],[69.411,-0.02],[69.413,0.23],[69.416,0.06],[69.419,0.43],[69.421,0.01],[69.423,-0.17],[69.426,0.11],[69.429,-0.02],[69.431,0.26],[69.433,0.08],[69.436,-0.5],[69.439,-0.02],[69.441,-0.15],[69.443,0.13],[69.446,0.08],[69.449,0.38],[69.451,0.03],[69.453,-0.65],[69.456,-0.02],[69.459,0.13],[69.461,-0.07],[69.463,-0.22],[69.466,0.08],[69.469,-0.02],[69.471,0.03],[69.473,-0.12],[69.476,0.13],[69.479,0.06],[69.481,-0.17],[69.483,0.01],[69.486,-0.27],[69.489,0.06],[69.491,-0.68],[69.493,-0.02],[69.496,0.11],[69.499,-0.07],[69.501,0.03],[69.503,0.18],[69.506,-0.05],[69.509,0.13],[69.511,0.06],[69.513,-0.02],[69.516,0.08],[69.519,0.23],[69.521,-0.02],[69.523,-0.73],[69.526,-0.57],[69.529,0.11],[69.531,0.06],[69.536,0.13],[69.541,0.08],[69.543,0.21],[69.546,0.03],[69.549,0.13],[69.551,-0.02],[69.555,0.08],[69.56,0.23],[69.565,0.43],[69.568,0.13],[69.57,0.01],[69.575,-0.27],[69.578,-0.3],[69.59,0.28],[69.6,0.13],[69.605,0.18],[69.61,0.08],[69.618,0.03],[69.62,-0.17],[69.622,-0.02],[69.625,-0.7],[69.63,0.03],[69.635,-0.42],[69.638,0.11],[69.64,-0.27],[69.645,0.18],[69.648,0.03],[69.65,-0.17],[69.652,-0.05],[69.655,0.43],[69.658,0.13],[69.66,0.08],[69.258,0.1],[69.268,0.0],[69.279,0.08],[69.289,0.02],[69.305,0.05],[69.318,0.1],[69.338,0.05],[69.345,0.15],[69.356,0.0],[69.368,0.1],[69.388,0.04],[69.405,0.08],[69.418,0.12],[69.428,0.05],[69.438,0.1],[69.448,-0.03],[69.458,0.05],[69.468,0.12],[69.478,-0.05],[69.488,0.1],[69.498,0.02],[69.508,0.07],[69.518,-0.05],[69.535,0.03],[69.545,0.1]];
const siblingBafBlueAt1 = [68.825,68.83,68.836,68.845,68.852,68.858,68.866,68.873,68.88,68.888,68.895,68.9,68.908,68.915,68.922,68.935,68.945,68.953,68.96,68.968,68.976,68.985,68.992,69.0,69.007,69.014,69.02,69.028,69.035,69.045,69.052,69.06,69.07,69.08,69.09,69.1,69.11,69.118,69.126,69.133,69.145,69.152,69.16,69.168,69.175,69.182,69.19,69.196,69.203,69.21,69.218,69.225,69.232,69.238];
const siblingBafBlueAt0 = [68.825,68.832,68.84,68.855,68.862,68.87,68.88,68.89,68.9,68.905,68.915,68.94,68.948,68.955,68.962,69.0,69.005,69.012,69.02,69.025,69.032,69.04,69.05,69.058,69.07,69.085,69.1,69.11,69.12,69.14,69.15,69.155,69.16,69.165,69.17,69.175,69.18,69.188,69.195,69.2,69.205,69.212,69.22,69.228,69.235];
const siblingBafBlueOther = [[69.058,0.96],[69.083,0.95],[69.135,0.95],[69.211,0.96],[68.896,0.98],[69.004,0.98],[69.135,0.12],[68.964,0.04],[68.944,0.02],[69.163,0.05],[69.029,0.03],[69.158,0.03],[69.185,0.02],[69.21,0.025],[68.875,0.015]];
const siblingBafRedAt1 = [69.242,69.248,69.254,69.26,69.266,69.272,69.278,69.284,69.29,69.296,69.302,69.31,69.318,69.33,69.338,69.346,69.354,69.362,69.37,69.378,69.386,69.394,69.4,69.406,69.412,69.418,69.424,69.43,69.436,69.442,69.448,69.454,69.46,69.466,69.472,69.478,69.484,69.49,69.496,69.502,69.508,69.514,69.52,69.526,69.532,69.538,69.544,69.55,69.556,69.562,69.568,69.575,69.6,69.606,69.612,69.62,69.628,69.635,69.642,69.65,69.658];
const siblingBafRedAt0 = [69.242,69.25,69.258,69.266,69.274,69.282,69.29,69.298,69.306,69.314,69.322,69.33,69.338,69.346,69.354,69.362,69.37,69.378,69.386,69.394,69.402,69.41,69.418,69.426,69.434,69.442,69.45,69.458,69.466,69.474,69.482,69.49,69.498,69.506,69.514,69.522,69.53,69.538,69.546,69.554,69.562,69.59,69.605,69.615,69.625,69.635,69.645,69.655];
const siblingBafRedOther = [[69.393,0.09],[69.46,0.02],[69.49,0.03],[69.5,0.025],[69.52,0.02],[69.33,0.015],[69.28,0.98],[69.35,0.985],[69.6,0.985]];

// ---------- rendering ----------
const BLUE = "#1414ee", RED = "#ee1414";
Chart.defaults.font.family = "'Liberation Sans', Arial, sans-serif";
Chart.defaults.font.size = 15;
Chart.defaults.color = "#444";

const pairs = a => a.map(p => ({x: p[0], y: p[1]}));
const atLevel = (xs, v) => xs.map(x => ({x: x, y: v}));
const fmt = v => (v < 0 ? "\u2212" : "") + Math.abs(v).toFixed(1);

const framePlugin = {
  id: "frame",
  beforeDatasetsDraw(chart, args, opts) {
    const {ctx, chartArea: a, scales: {x, y}} = chart;
    ctx.save();
    ctx.strokeStyle = "#d2d2d2"; ctx.lineWidth = 1;
    boundaries.forEach(b => {
      const px = Math.round(x.getPixelForValue(b)) + 0.5;
      ctx.beginPath(); ctx.moveTo(px, a.top); ctx.lineTo(px, a.bottom); ctx.stroke();
    });
    if (opts.zero) {
      const py = Math.round(y.getPixelForValue(0)) + 0.5;
      ctx.strokeStyle = "#cccccc"; ctx.setLineDash([2, 3]);
      ctx.beginPath(); ctx.moveTo(a.left, py); ctx.lineTo(a.right, py); ctx.stroke();
    }
    ctx.restore();
  },
  afterDatasetsDraw(chart) {
    const {ctx, chartArea: a} = chart;
    ctx.save();
    ctx.strokeStyle = "#1c1c1c"; ctx.lineWidth = 2;
    ctx.strokeRect(a.left, a.top, a.right - a.left, a.bottom - a.top);
    ctx.restore();
  }
};

const page = document.getElementById("page");

function makePanel(p) {
  const PL = 75, PT = 12, PR = 10, PB = 80;
  const w = p.box[2] + PL + PR, h = p.box[3] + PT + PB;
  const c = document.createElement("canvas");
  c.width = w; c.height = h;
  c.style.cssText = `position:absolute;left:${p.box[0] - PL}px;top:${p.box[1] - PT}px;width:${w}px;height:${h}px;`;
  page.appendChild(c);
  const isLrr = p.kind === "lrr";
  const yt = isLrr ? lrrTicks : bafTicks;
  new Chart(c, {
    type: "scatter",
    data: {datasets: [
      {data: p.blue, backgroundColor: BLUE, borderWidth: 0, pointRadius: 1.7, pointHoverRadius: 1.7},
      {data: p.red, backgroundColor: RED, borderWidth: 0, pointRadius: 1.7, pointHoverRadius: 1.7}
    ]},
    options: {
      responsive: false, animation: false, devicePixelRatio: 1, events: [],
      layout: {padding: {left: 0, top: PT, right: PR, bottom: 0}},
      plugins: {legend: {display: false}, tooltip: {enabled: false}, frame: {zero: isLrr}},
      scales: {
        x: {
          type: "linear", min: xRange[0], max: xRange[1],
          afterFit: s => { s.height = PB; },
          afterBuildTicks: s => { s.ticks = xTicks.map(v => ({value: v})); },
          ticks: {callback: v => fmt(v), padding: 9, maxRotation: 0, autoSkip: false, color: "#444"},
          grid: {display: true, drawOnChartArea: false, drawTicks: true, tickLength: 10, tickColor: "#1c1c1c", tickWidth: 2},
          border: {display: false},
          title: {display: true, text: xTitle, color: "#444", padding: {top: 0, bottom: PB - 9 - p.xt}}
        },
        y: {
          type: "linear", min: p.range[0], max: p.range[1],
          afterFit: s => { s.width = PL; },
          afterBuildTicks: s => { s.ticks = yt.map(v => ({value: v})); },
          ticks: {callback: v => fmt(v), padding: 6, autoSkip: false, color: "#444"},
          grid: {display: true, drawOnChartArea: false, drawTicks: true, tickLength: 10, tickColor: "#1c1c1c", tickWidth: 2},
          border: {display: false},
          title: {display: true, text: isLrr ? lrrTitle : bafTitle, color: "#444", padding: {top: 3, bottom: 0}}
        }
      }
    },
    plugins: [framePlugin]
  });
}

const bafSet = (b1, b0, bo, r1, r0, ro) => ({
  blue: atLevel(b1, 1).concat(atLevel(b0, 0), pairs(bo)),
  red: atLevel(r1, 1).concat(atLevel(r0, 0), pairs(ro))
});

const panels = [
  Object.assign({kind: "lrr", box: [97, 134, 460, 179], range: lrrRange, xt: 66, blue: pairs(motherLrrBlue), red: pairs(motherLrrRed)}),
  Object.assign({kind: "baf", box: [97, 414, 460, 179], range: bafRange, xt: 65}, bafSet(motherBafBlueAt1, motherBafBlueAt0, motherBafBlueOther, motherBafRedAt1, motherBafRedAt0, motherBafRedOther)),
  Object.assign({kind: "lrr", box: [793, 132, 465, 180], range: fatherLrrRange, xt: 67, blue: pairs(fatherLrrBlue), red: pairs(fatherLrrRed)}),
  Object.assign({kind: "baf", box: [793, 415, 465, 180], range: bafRange, xt: 67}, bafSet(fatherBafBlueAt1, fatherBafBlueAt0, fatherBafBlueOther, fatherBafRedAt1, fatherBafRedAt0, fatherBafRedOther)),
  Object.assign({kind: "lrr", box: [122, 789, 456, 178], range: lrrRange, xt: 65, blue: pairs(probandLrrBlue), red: pairs(probandLrrRed)}),
  Object.assign({kind: "baf", box: [122, 1069, 456, 178], range: bafRange, xt: 65}, bafSet(probandBafBlueAt1, probandBafBlueAt0, probandBafBlueOther, probandBafRedAt1, probandBafRedAt0, probandBafRedOther)),
  Object.assign({kind: "lrr", box: [789, 785, 467, 181], range: lrrRange, xt: 67, blue: pairs(siblingLrrBlue), red: pairs(siblingLrrRed)}),
  Object.assign({kind: "baf", box: [789, 1070, 467, 180], range: bafRange, xt: 67}, bafSet(siblingBafBlueAt1, siblingBafBlueAt0, siblingBafBlueOther, siblingBafRedAt1, siblingBafRedAt0, siblingBafRedOther))
];
panels.forEach(makePanel);

// panel titles (baseline positions) and separators
const titlePos = [[323.5, 101.5], [993, 101.5], [346.5, 744.5], [991.5, 733.5]];
panelTitles.forEach((t, i) => {
  const d = document.createElement("div");
  d.className = "ttl"; d.textContent = t;
  d.style.left = titlePos[i][0] + "px";
  d.style.top = (titlePos[i][1] - 44) + "px";
  page.appendChild(d);
});
[[20, 667, 558], [713, 670, 373]].forEach(s => {
  const d = document.createElement("div");
  d.className = "sep";
  d.style.left = s[0] + "px"; d.style.top = s[1] + "px"; d.style.width = s[2] + "px";
  page.appendChild(d);
});
</script></body></html>
